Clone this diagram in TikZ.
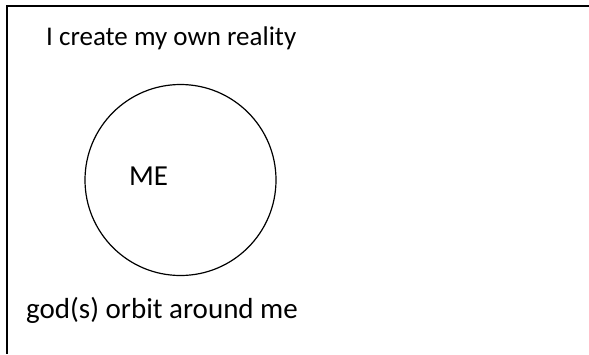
\documentclass[tikz,border=0pt]{standalone}
\usepackage{fontspec}
\setmainfont{Carlito}
\begin{document}
\begin{tikzpicture}[x=1pt, y=-1pt, every node/.style={inner sep=0pt, font=\fontsize{27}{32}\selectfont}]
    % Page area
    \useasboundingbox (0,0) rectangle (589,354);
    % Frame (top and left edges only)
    \coordinate (TL) at (7,6);
    \coordinate (TR) at (589,6);
    \coordinate (BL) at (7,354);
    \draw[line width=2pt] (TR) -- (TL) -- (BL);

    % Circle
    \coordinate (O) at (180.5,180);
    \draw[line width=1.2pt] (O) circle (95.5);

    % Labels
    \node[anchor=base west] (title) at (46,45) {I create my own reality};
    \node[anchor=base west, font=\fontsize{29}{34}\selectfont] (me) at (129,185) {ME};
    \node[anchor=base west, font=\fontsize{29}{34}\selectfont] (orbit) at (26,318) {god(s) orbit around me};
\end{tikzpicture}
\end{document}
